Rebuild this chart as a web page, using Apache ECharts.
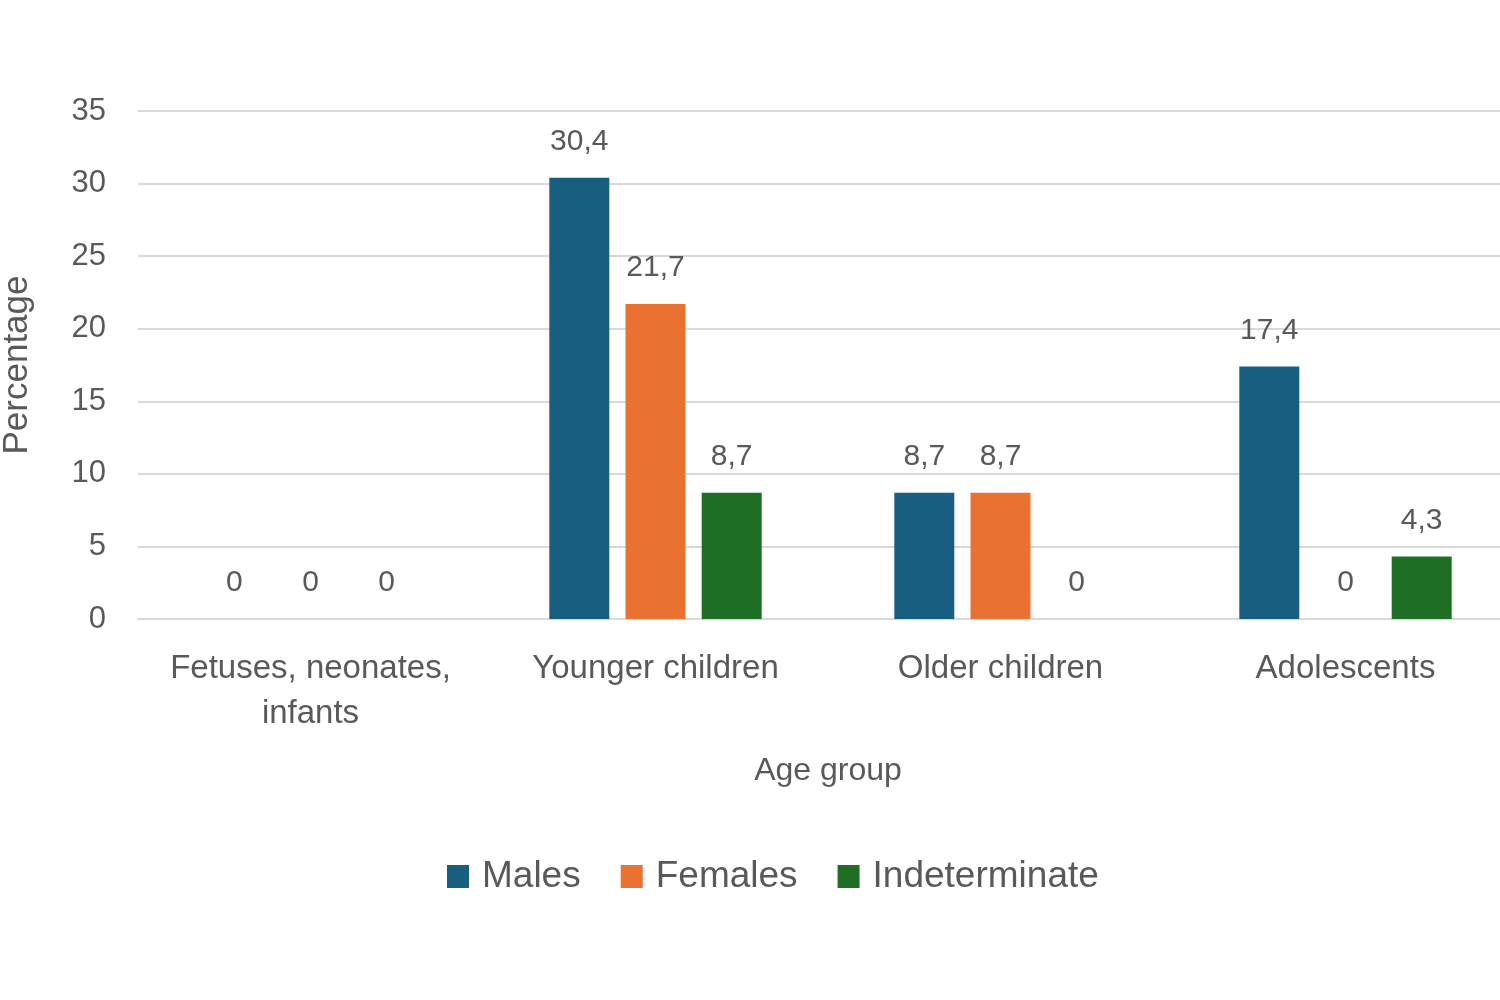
<!DOCTYPE html>
<html>
<head>
<meta charset="utf-8">
<script src="https://cdn.jsdelivr.net/npm/echarts@6/dist/echarts.min.js"></script>
<style>
html,body{margin:0;padding:0;background:#fff;}
#chart{width:1500px;height:1000px;}
</style>
</head>
<body>
<div id="chart"></div>
<script>
const categories = ['Fetuses, neonates,\ninfants', 'Younger children', 'Older children', 'Adolescents'];
const seriesNames = ['Males', 'Females', 'Indeterminate'];
const males = [0, 30.4, 8.7, 17.4];
const females = [0, 21.7, 8.7, 0];
const indeterminate = [0, 8.7, 0, 4.3];
const yTicks = [0, 5, 10, 15, 20, 25, 30, 35];
const colors = ['#175e80', '#e97132', '#1e6f24'];

const FONT = 'Liberation Sans';
const TXT = '#595959';
const values = [males, females, indeterminate];

const chart = echarts.init(document.getElementById('chart'));
chart.setOption({
  backgroundColor: '#ffffff',
  animation: false,
  textStyle: { fontFamily: FONT, color: TXT },
  grid: { left: 138, right: -18, top: 111, bottom: 381, containLabel: false, outerBoundsMode: 'none' },
  legend: {
    data: seriesNames,
    left: 442,
    top: 853,
    itemWidth: 22,
    itemHeight: 23,
    itemGap: 40,
    icon: 'rect',
    textStyle: { fontFamily: FONT, fontSize: 37, color: TXT, padding: [0, 0, 0, 8] }
  },
  xAxis: {
    type: 'category',
    data: categories,
    name: 'Age group',
    nameLocation: 'middle',
    nameGap: 136,
    nameTextStyle: { fontFamily: FONT, fontSize: 32, color: TXT },
    axisLine: { show: true, lineStyle: { color: '#d9d9d9', width: 2 } },
    axisTick: { show: false },
    axisLabel: { fontFamily: FONT, fontSize: 33, color: TXT, margin: 27, lineHeight: 45, interval: 0 }
  },
  yAxis: {
    type: 'value',
    min: yTicks[0],
    max: yTicks[yTicks.length - 1],
    interval: 5,
    name: 'Percentage',
    nameLocation: 'middle',
    nameGap: 103,
    nameRotate: 90,
    nameTextStyle: { fontFamily: FONT, fontSize: 35, color: TXT },
    axisLine: { show: false },
    axisTick: { show: false },
    axisLabel: { fontFamily: FONT, fontSize: 31, color: TXT, margin: 32 },
    splitLine: { show: true, lineStyle: { color: '#d9d9d9', width: 2 } }
  },
  series: seriesNames.map((name, i) => ({
    name: name,
    type: 'bar',
    data: values[i],
    barWidth: 60,
    barGap: '27%',
    itemStyle: { color: colors[i] },
    label: {
      show: true,
      position: 'top',
      distance: 21,
      fontFamily: FONT,
      fontSize: 30,
      color: TXT,
      formatter: p => String(p.value).replace('.', ',')
    }
  }))
});
</script>
</body>
</html>
